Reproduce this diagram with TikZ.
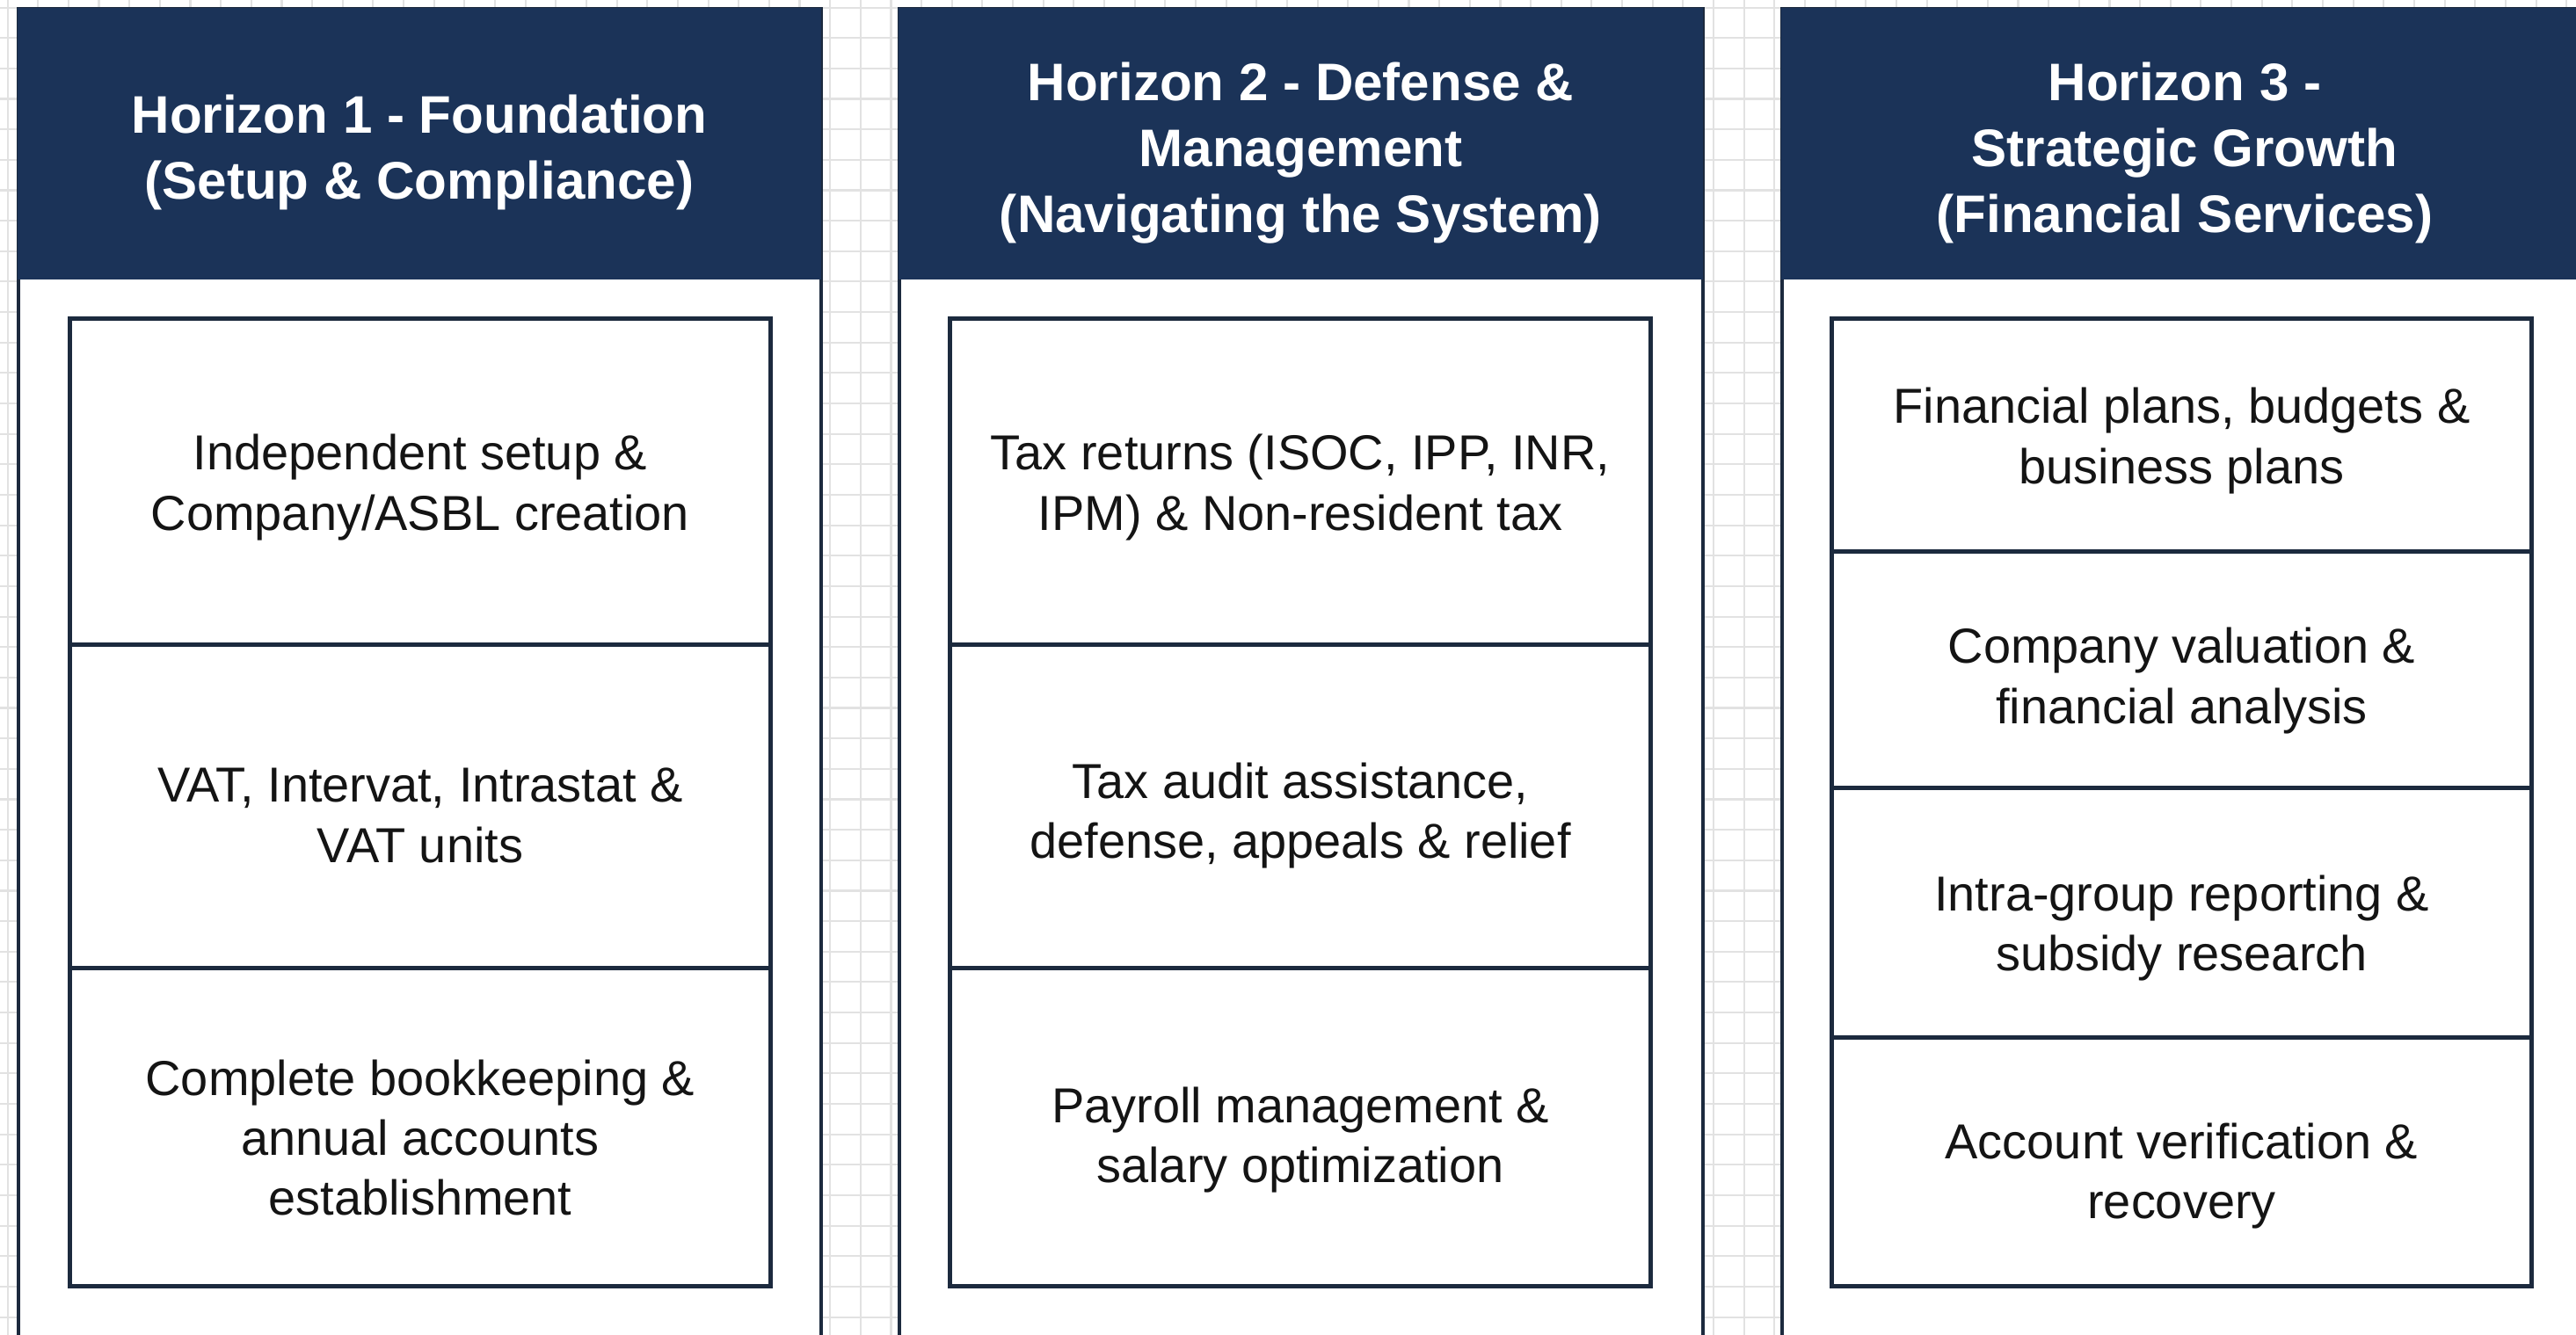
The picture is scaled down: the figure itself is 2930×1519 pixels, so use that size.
\documentclass[tikz,border=0pt]{standalone}
\usepackage{fontspec}
\setmainfont{Liberation Sans}
\definecolor{navy}{HTML}{1B3358}
\definecolor{edge}{HTML}{1C2A3E}
\definecolor{gridc}{HTML}{E2E2E2}
\definecolor{ink}{HTML}{141414}
\tikzset{
  hdr/.style={fill=navy, inner sep=0pt, anchor=north west},
  hdrtext/.style={text=white, font=\fontsize{17.1}{21.3}\selectfont\bfseries, align=center, inner sep=0pt},
  cell/.style={draw=edge, line width=1.4pt, fill=white, minimum width=7.96cm, inner sep=0pt},
  celltext/.style={text=ink, font=\fontsize{15.9}{19.4}\selectfont, align=center, inner sep=0pt},
  colbody/.style={draw=edge, line width=1.2pt, fill=white, inner sep=0pt, anchor=north west},
  gridline/.style={draw=gridc, line width=0.6pt}
}
\begin{document}
\begin{tikzpicture}[x=0.01cm,y=-0.01cm]
\useasboundingbox (0,0) rectangle (2930,1519);
\fill[white] (0,0) rectangle (2930,1519);
\foreach \i in {0,...,84} \draw[gridline] (8.6+34.65*\i,0) -- (8.6+34.65*\i,1519);
\foreach \i in {0,...,43} \draw[gridline] (0,8.6+34.65*\i) -- (2930,8.6+34.65*\i);

% column bodies
\node[colbody, minimum width=9.12cm, minimum height=15.2cm] (col1) at (19,8) {};
\node[colbody, minimum width=9.13cm, minimum height=15.2cm] (col2) at (1021,8) {};
\node[colbody, minimum width=9.16cm, minimum height=15.2cm] (col3) at (2025,8) {};

% headers
\node[hdr, minimum width=9.14cm, minimum height=3.09cm] (h1) at (19,8) {};
\node[hdr, minimum width=9.15cm, minimum height=3.09cm] (h2) at (1021,8) {};
\node[hdr, minimum width=9.18cm, minimum height=3.09cm] (h3) at (2025,8) {};
\node[hdrtext] (h1t) at ([yshift=-3pt]h1.center) {Horizon 1 - Foundation\\(Setup \& Compliance)};
\node[hdrtext] (h2t) at ([yshift=-3pt]h2.center) {Horizon 2 - Defense \&\\Management\\(Navigating the System)};
\node[hdrtext] (h3t) at ([yshift=-3pt]h3.center) {Horizon 3 -\\Strategic Growth\\(Financial Services)};

% column 1 cells
\node[cell, minimum height=3.71cm] (a1) at (478,548.5) {};
\node[cell, minimum height=3.68cm] (a2) at (478,918) {};
\node[cell, minimum height=3.61cm] (a3) at (478,1282.5) {};
\node[celltext] (a1t) at ([yshift=-1.7pt]a1.center) {Independent setup \&\\Company/ASBL creation};
\node[celltext] (a2t) at ([yshift=-2.8pt]a2.center) {VAT, Intervat, Intrastat \&\\VAT units};
\node[celltext] (a3t) at ([yshift=-3.4pt]a3.center) {Complete bookkeeping \&\\annual accounts\\establishment};

% column 2 cells
\node[cell, minimum height=3.71cm] (b1) at (1479,548.5) {};
\node[cell, minimum height=3.68cm] (b2) at (1479,918) {};
\node[cell, minimum height=3.61cm] (b3) at (1479,1282.5) {};
\node[celltext] (b1t) at ([yshift=-1.7pt]b1.center) {Tax returns (ISOC, IPP, INR,\\IPM) \& Non-resident tax};
\node[celltext] (b2t) at ([yshift=-2.8pt]b2.center) {Tax audit assistance,\\defense, appeals \& relief};
\node[celltext] (b3t) at ([yshift=-4.2pt]b3.center) {Payroll management \&\\salary optimization};

% column 3 cells
\node[cell, minimum height=2.65cm] (c1) at (2481.5,495.5) {};
\node[cell, minimum height=2.69cm] (c2) at (2481.5,762.5) {};
\node[cell, minimum height=2.84cm] (c3) at (2481.5,1039) {};
\node[cell, minimum height=2.82cm] (c4) at (2481.5,1322) {};
\node[celltext] (c1t) at ([yshift=-1.7pt]c1.center) {Financial plans, budgets \&\\business plans};
\node[celltext] (c2t) at ([yshift=-3.4pt]c2.center) {Company valuation \&\\financial analysis};
\node[celltext] (c3t) at ([yshift=-4.8pt]c3.center) {Intra-group reporting \&\\subsidy research};
\node[celltext] (c4t) at ([yshift=-4.5pt]c4.center) {Account verification \&\\recovery};
\end{tikzpicture}
\end{document}
